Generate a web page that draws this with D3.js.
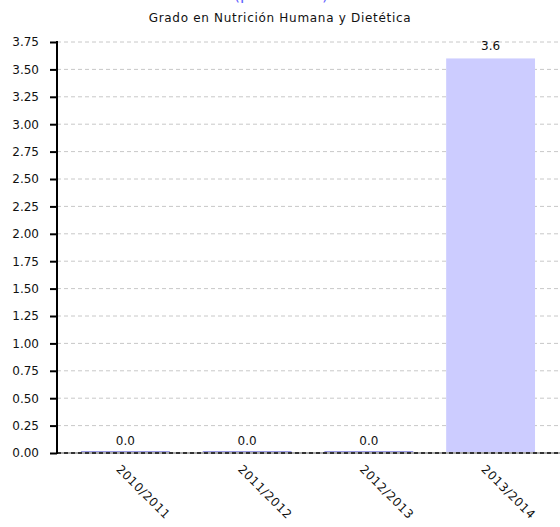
<!DOCTYPE html>
<html>
<head>
<meta charset="utf-8">
<script src="https://cdn.jsdelivr.net/npm/d3@7"></script>
<style>
  body { margin: 0; background: #fff; }
  svg { display: block; font-family: "DejaVu Sans", sans-serif; }
</style>
</head>
<body>
<svg></svg>
<script>
var categories = ['2010/2011', '2011/2012', '2012/2013', '2013/2014'];
var values = [0.0, 0.0, 0.0, 3.6];
var yTicks = [0, 0.25, 0.5, 0.75, 1, 1.25, 1.5, 1.75, 2, 2.25, 2.5, 2.75, 3, 3.25, 3.5, 3.75];
var title = '(presencial)';
var subtitle = 'Grado en Nutrición Humana y Dietética';

var width = 560, height = 527;
var svg = d3.select('svg')
	.attr('width', width)
	.attr('height', height);

var x = d3.scaleBand()
	.domain(categories)
	.range([57, 559])
	.paddingInner(0.27)
	.paddingOuter(0.197);

var y = d3.scaleLinear()
	.domain([0, 3.75])
	.range([453, 42]);

// titles (main title sits mostly above the top edge, as in the original)
svg.append('text')
	.attr('x', 281).attr('y', 0)
	.attr('text-anchor', 'middle')
	.attr('fill', '#6262ff')
	.style('font-size', '16px')
	.text(title);

svg.append('text')
	.attr('x', 280).attr('y', 22)
	.attr('text-anchor', 'middle')
	.attr('fill', '#111')
	.style('font-size', '12px')
	.style('letter-spacing', '0.7px')
	.text(subtitle);

// grid
svg.append('g')
	.selectAll('line')
	.data(yTicks.filter(function(d) { return d > 0; }))
	.join('line')
	.attr('x1', 57).attr('x2', width)
	.attr('y1', function(d) { return y(d); })
	.attr('y2', function(d) { return y(d); })
	.attr('stroke', '#c8c8c8')
	.attr('stroke-dasharray', '4,3');

// bars
svg.append('g')
	.selectAll('rect')
	.data(values)
	.join('rect')
	.attr('x', function(d, i) { return x(categories[i]); })
	.attr('width', x.bandwidth())
	.attr('y', function(d) { return y(d); })
	.attr('height', function(d) { return y(0) - y(d); })
	.attr('fill', '#ccccff');

// zero bars show as a thin line
svg.append('g')
	.selectAll('line')
	.data(categories.filter(function(c, i) { return values[i] === 0; }))
	.join('line')
	.attr('x1', function(c) { return x(c); })
	.attr('x2', function(c) { return x(c) + x.bandwidth(); })
	.attr('y1', y(0) - 1.5).attr('y2', y(0) - 1.5)
	.attr('stroke', '#9a9ae6')
	.attr('stroke-width', 1);

// value labels
svg.append('g')
	.selectAll('text')
	.data(values)
	.join('text')
	.attr('x', function(d, i) { return x(categories[i]) + x.bandwidth() / 2; })
	.attr('y', function(d) { return y(d) - 8; })
	.attr('text-anchor', 'middle')
	.attr('fill', '#111')
	.style('font-size', '12px')
	.text(function(d) { return d.toFixed(1); });

// baseline
svg.append('line')
	.attr('x1', 57).attr('x2', width)
	.attr('y1', y(0)).attr('y2', y(0))
	.attr('stroke', '#aaa')
	.attr('stroke-width', 2);
svg.append('line')
	.attr('x1', 57).attr('x2', width)
	.attr('y1', y(0)).attr('y2', y(0))
	.attr('stroke', '#333')
	.attr('stroke-width', 2)
	.attr('stroke-dasharray', '4,3');

// y axis
var yAxis = d3.axisLeft(y)
	.tickValues(yTicks)
	.tickSize(7)
	.tickPadding(11)
	.tickFormat(d3.format('.2f'));

var gy = svg.append('g')
	.attr('transform', 'translate(57,0)')
	.call(yAxis);
gy.select('.domain').attr('stroke', '#000').attr('stroke-width', 2)
	.attr('d', 'M0,' + (y(3.75) - 1) + 'V' + (y(0) + 1));
gy.selectAll('.tick line').attr('stroke', '#000').attr('stroke-width', 2);
gy.selectAll('.tick text')
	.attr('fill', '#111')
	.style('font-family', '"DejaVu Sans", sans-serif')
	.style('font-size', '12px');

// x labels
svg.append('g')
	.selectAll('text')
	.data(categories)
	.join('text')
	.attr('transform', function(d) {
		return 'translate(' + (x(d) + x.bandwidth() / 2 - 7) + ',' + 467 + ') rotate(45)';
	})
	.attr('text-anchor', 'start')
	.attr('dy', '0.35em')
	.attr('fill', '#111')
	.style('font-size', '12px')
	.style('letter-spacing', '0.6px')
	.text(function(d) { return d; });
</script>
</body>
</html>
